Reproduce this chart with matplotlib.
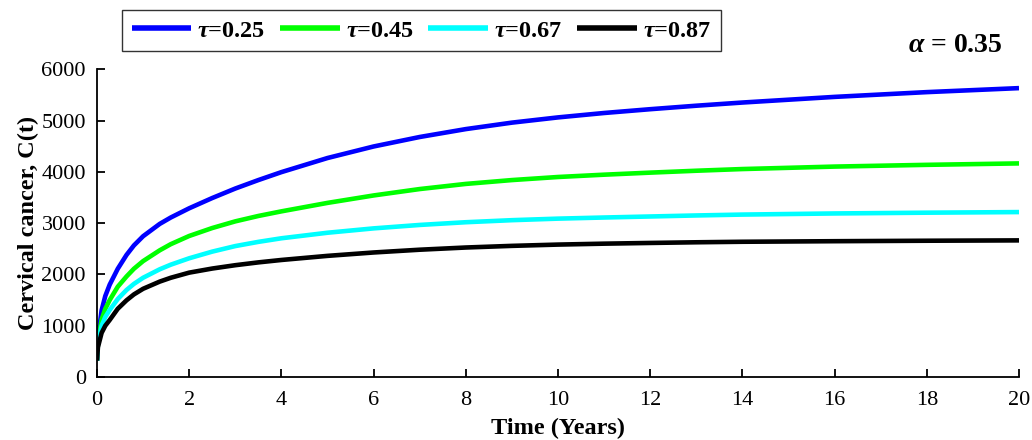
import matplotlib
matplotlib.use("Agg")
import matplotlib.pyplot as plt

plt.rcParams['font.family'] = ['Liberation Serif', 'DejaVu Serif']
plt.rcParams['mathtext.fontset'] = 'custom'
plt.rcParams['mathtext.rm'] = 'Liberation Serif:bold'
plt.rcParams['mathtext.it'] = 'Liberation Serif:italic:bold'
plt.rcParams['mathtext.bf'] = 'Liberation Serif:bold'

# Data
t = [0, 0.02, 0.1, 0.18, 0.275, 0.45, 0.64, 0.8, 1.0, 1.36, 1.6, 2, 2.5, 3, 3.5, 4,
     5, 6, 7, 8, 9, 10, 11, 12, 13, 14, 16, 18, 20]
c_tau025 = [320, 750, 1300, 1580, 1800, 2110, 2380, 2565, 2745, 2985, 3110, 3290, 3490, 3675, 3840, 3995,
            4270, 4495, 4680, 4834, 4960, 5062, 5148, 5222, 5290, 5352, 5462, 5555, 5633]
c_tau045 = [320, 680, 1120, 1330, 1500, 1760, 1960, 2110, 2260, 2470, 2590, 2750, 2905, 3035, 3140, 3230,
            3395, 3540, 3665, 3765, 3840, 3900, 3945, 3985, 4022, 4055, 4103, 4137, 4165]
c_tau067 = [320, 640, 1000, 1170, 1306, 1520, 1696, 1815, 1935, 2100, 2190, 2315, 2445, 2553, 2635, 2705,
            2813, 2898, 2965, 3018, 3058, 3088, 3110, 3130, 3150, 3167, 3189, 3204, 3216]
c_tau087 = [320, 580, 860, 1000, 1111, 1330, 1495, 1610, 1720, 1860, 1935, 2035, 2115, 2180, 2235, 2282,
            2362, 2428, 2482, 2525, 2557, 2582, 2600, 2614, 2627, 2637, 2648, 2657, 2664]
series = [c_tau025, c_tau045, c_tau067, c_tau087]
labels = [r'$\tau$=0.25', r'$\tau$=0.45', r'$\tau$=0.67', r'$\tau$=0.87']
colors = ['#0000ff', '#00ff00', '#00ffff', '#000000']
xticks = [0, 2, 4, 6, 8, 10, 12, 14, 16, 18, 20]
yticks = [0, 1000, 2000, 3000, 4000, 5000, 6000]

fig = plt.figure(figsize=(10.32, 4.4), dpi=100)
ax = fig.add_axes([97/1032, 1-377/440, (1019-97)/1032, (377-69.3)/440])

for y, lab, col in zip(series, labels, colors):
    ax.plot(t, y, color=col, lw=3.3, label=lab, solid_capstyle='butt', solid_joinstyle='round')

ax.set_xlim(0, 20)
ax.set_ylim(0, 6000)
ax.set_xticks(xticks)
ax.set_yticks(yticks)
ax.tick_params(direction='in', length=6, width=1.3, labelsize=16)
ax.tick_params(axis='x', pad=10)
ax.tick_params(axis='y', pad=8)
for s in ['top', 'right']:
    ax.spines[s].set_visible(False)
for s in ['left', 'bottom']:
    ax.spines[s].set_linewidth(1.3)

ax.set_xlabel('Time (Years)', fontsize=17.5, fontweight='bold', labelpad=6)
ax.set_ylabel('Cervical cancer, C(t)', fontsize=17.5, fontweight='bold', labelpad=2)

leg = fig.legend(loc='upper left', bbox_to_anchor=(122/1032, 1-10/440), ncol=4,
                 prop={'size': 17.5, 'weight': 'bold'}, frameon=True, fancybox=False,
                 handlelength=2.45, handletextpad=0.25, columnspacing=0.6,
                 borderpad=0.4, borderaxespad=0)
leg.get_frame().set_edgecolor('black')
leg.get_frame().set_linewidth(1.0)
for line in leg.get_lines():
    line.set_linewidth(4.0)

fig.text(1003/1032, 1-45/440, r'$\alpha$ = 0.35', fontsize=20, fontweight='bold',
         ha='right', va='center')

fig.savefig('out.png', dpi=100)
